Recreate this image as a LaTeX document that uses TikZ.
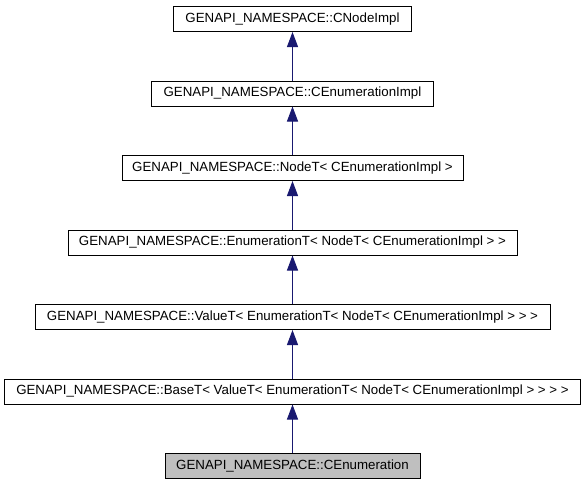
\documentclass[tikz,border=0pt]{standalone}
\usepackage{fontspec}
\setmainfont{Liberation Sans}
\usetikzlibrary{arrows.meta}
\definecolor{edgeblue}{RGB}{25,25,112}
\definecolor{curfill}{RGB}{191,191,191}
\begin{document}
\begin{tikzpicture}[x=1pt,y=-1pt,
  cls/.style={draw=black, fill=white, line width=1pt, minimum height=25pt, inner sep=0pt,
    font=\fontsize{13.3}{16}\selectfont},
  cur/.style={cls, fill=curfill},
  inh/.style={draw=edgeblue, line width=1pt, -{Triangle[length=15pt,width=11pt,fill=edgeblue]}}]
\useasboundingbox (0,0) rectangle (587,485);
\node[cls, minimum width=238pt] (a) at (292.5,19) {GENAPI\_NAMESPACE::CNodeImpl};
\node[cls, minimum width=282pt] (b) at (292.5,93.5) {GENAPI\_NAMESPACE::CEnumerationImpl};
\node[cls, minimum width=341pt] (c) at (292.5,168) {GENAPI\_NAMESPACE::NodeT< CEnumerationImpl >};
\node[cls, minimum width=449pt] (d) at (292.5,242.5) {GENAPI\_NAMESPACE::EnumerationT< NodeT< CEnumerationImpl > >};
\node[cls, minimum width=515pt] (e) at (292.5,317) {GENAPI\_NAMESPACE::ValueT< EnumerationT< NodeT< CEnumerationImpl > > >};
\node[cls, minimum width=576pt] (f) at (292.5,391.5) {GENAPI\_NAMESPACE::BaseT< ValueT< EnumerationT< NodeT< CEnumerationImpl > > > >};
\node[cur, minimum width=255pt] (g) at (292.5,466) {GENAPI\_NAMESPACE::CEnumeration};
\draw[inh] (b) -- (a);
\draw[inh] (c) -- (b);
\draw[inh] (d) -- (c);
\draw[inh] (e) -- (d);
\draw[inh] (f) -- (e);
\draw[inh] (g) -- (f);
\end{tikzpicture}
\end{document}
